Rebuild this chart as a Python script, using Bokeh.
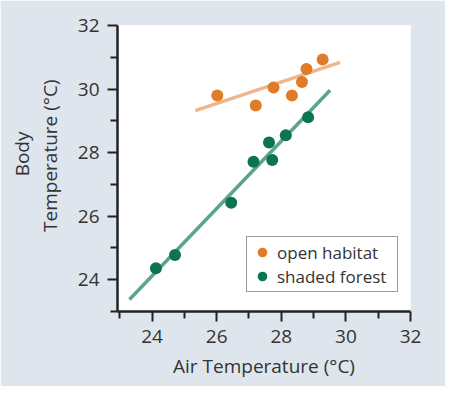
from bokeh.plotting import figure
from bokeh.models import Range1d, FixedTicker, Legend, LegendItem, Title
from bokeh.embed import file_html
from bokeh.resources import INLINE

# Data
open_x = [26.02, 27.21, 27.76, 28.33, 28.64, 28.78, 29.28]
open_y = [29.80, 29.48, 30.05, 29.80, 30.22, 30.63, 30.93]
shade_x = [24.12, 24.71, 26.45, 27.14, 27.62, 27.72, 28.14, 28.83]
shade_y = [24.36, 24.78, 26.42, 27.71, 28.32, 27.77, 28.55, 29.11]
open_fit_x = [25.34, 29.82]
open_fit_y = [29.32, 30.84]
shade_fit_x = [23.30, 29.51]
shade_fit_y = [23.38, 29.96]
major_ticks = [24, 26, 28, 30, 32]
minor_ticks = [23, 25, 27, 29, 31]
x_title = "Air Temperature (°C)"
y_title_lines = ["Body", "Temperature (°C)"]

BG = "#dfe5ec"
FONT = "Open Sans"
TXT = "#333333"

p = figure(width=445, height=386, output_backend="svg", toolbar_location=None,
           x_range=Range1d(22.93, 32.0), y_range=Range1d(23.0, 32.0),
           min_border_left=117, min_border_right=35, min_border_top=25, min_border_bottom=75)
p.background_fill_color = "white"
p.border_fill_color = BG
p.outline_line_color = None
p.grid.visible = False

for ax in (p.xaxis[0], p.yaxis[0]):
    ax.ticker = FixedTicker(ticks=major_ticks, minor_ticks=minor_ticks)
    ax.axis_line_color = "#222222"
    ax.axis_line_width = 2.5
    ax.major_tick_line_color = "#222222"
    ax.major_tick_line_width = 2
    ax.minor_tick_line_color = "#222222"
    ax.minor_tick_line_width = 2
    ax.major_tick_in = 0
    ax.minor_tick_in = 0
    ax.major_tick_out = 10
    ax.minor_tick_out = 7
    ax.major_label_text_font = FONT
    ax.major_label_text_font_size = "19px"
    ax.major_label_text_color = TXT
    ax.axis_label_text_font = FONT
    ax.axis_label_text_font_size = "19px"
    ax.axis_label_text_font_style = "normal"
    ax.axis_label_text_color = TXT

p.xaxis.axis_label = x_title
p.xaxis.major_label_standoff = 8
p.yaxis.major_label_standoff = 8
p.xaxis.axis_label_standoff = 7

# two-line y title (as side titles so it can sit a little above the frame centre)
spacer = Title(text=" ", text_font_size="6px", standoff=3, text_color=BG)
t_temp = Title(text=y_title_lines[1], align="right", offset=54, vertical_align="middle",
               text_font=FONT, text_font_size="19px", text_font_style="normal",
               text_color=TXT, standoff=0)
t_body = Title(text=y_title_lines[0], align="right", offset=106, vertical_align="middle",
               text_font=FONT, text_font_size="19px", text_font_style="normal",
               text_color=TXT, standoff=0)
p.add_layout(spacer, "left")
p.add_layout(t_temp, "left")
p.add_layout(t_body, "left")

p.line(open_fit_x, open_fit_y, line_color="#f0b58c", line_width=3.5)
p.line(shade_fit_x, shade_fit_y, line_color="#5ba58a", line_width=3.5)
r_open = p.scatter(open_x, open_y, size=12, fill_color="#e07c27", line_color=None)
r_shade = p.scatter(shade_x, shade_y, size=12, fill_color="#0d7450", line_color=None)

legend = Legend(items=[LegendItem(label="open habitat", renderers=[r_open]),
                       LegendItem(label="shaded forest", renderers=[r_shade])],
                location=(129, 19), orientation="vertical")
legend.label_text_font = FONT
legend.label_text_font_size = "17px"
legend.label_text_color = TXT
legend.border_line_color = "#333333"
legend.border_line_width = 1.5
legend.background_fill_color = "white"
legend.background_fill_alpha = 1
legend.padding = 3
legend.spacing = 0
legend.glyph_width = 24
legend.glyph_height = 24
legend.label_standoff = 3
legend.label_height = 24
legend.label_width = 117
legend.margin = 0
p.add_layout(legend, "center")

open("out.html", "w").write(file_html(p, INLINE))
